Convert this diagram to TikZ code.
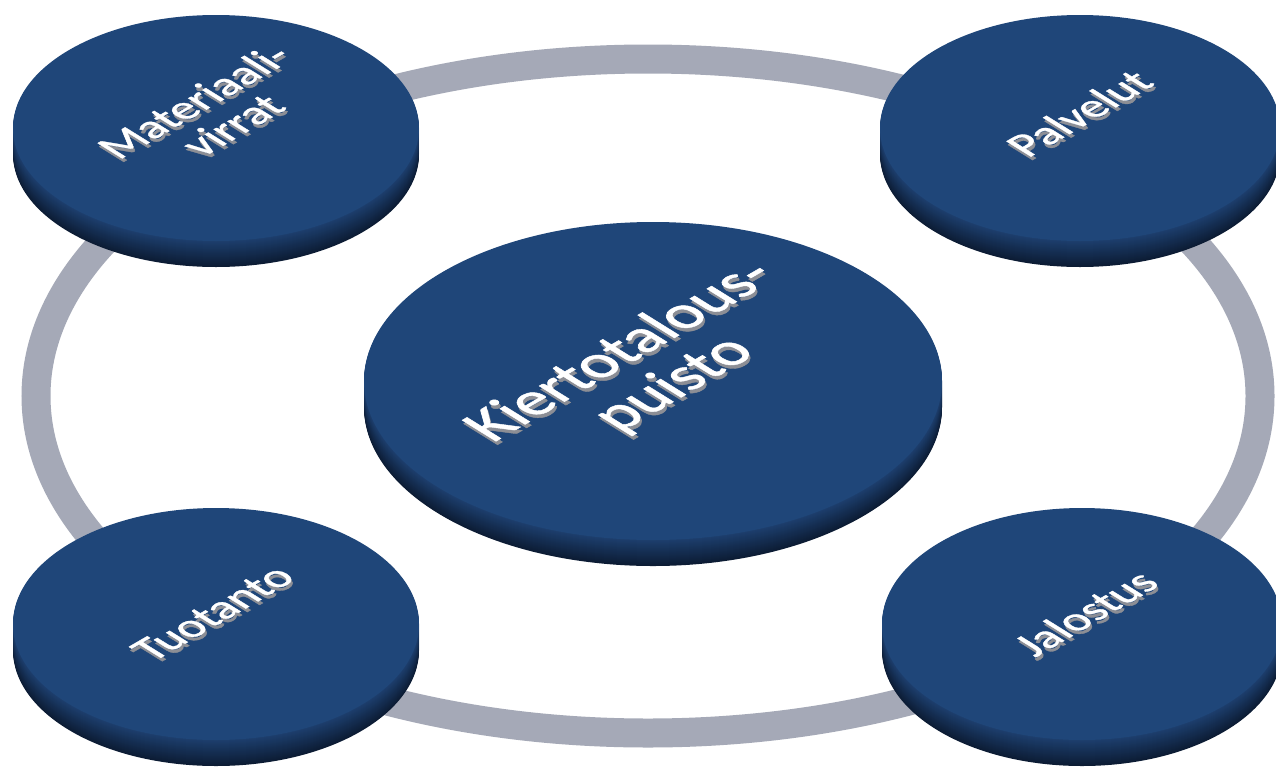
\documentclass[tikz,border=0pt]{standalone}
\usepackage{fontspec}
\setmainfont{Carlito}
\newfontfamily\labelfont{Carlito}[FakeBold=0.9]

\definecolor{ringgray}{HTML}{A5A9B7}
\definecolor{facetop}{HTML}{1F4679}
\definecolor{sidetop}{HTML}{1D3F6E}
\definecolor{sidebot}{HTML}{0C1C34}
\definecolor{embossgray}{HTML}{8C8E95}

\tikzset{
  ring/.style={draw=ringgray, line width=29pt},
  face/.style={fill=facetop},
  labelface/.style={text=white, inner sep=0pt, align=center},
  labelshade/.style={text=embossgray, inner sep=0pt, align=center},
}

% A flat disc seen from above: a stack of ellipses makes the dark rim,
% the top face sits on it. Arguments: name, centre x, centre y, x radius, y radius
\newcommand\puck[5]{%
  \foreach \k in {26,25,...,1}{%
    \pgfmathtruncatemacro\mixval{100*\k/26}%
    \fill[sidebot!\mixval!sidetop] (#2,#3+\k) ellipse[x radius=#4, y radius=#5];
  }
  \fill[face] (#2,#3) ellipse[x radius=#4, y radius=#5];
  \coordinate (#1) at (#2,#3);
}

% Label lying on a disc: rotated in the disc plane, then flattened,
% with a grey relief edge underneath.
% Arguments: name, x, y, font size, text
\newcommand\pucklabel[5]{%
  \begin{scope}[shift={(#2+1.5,#3+3.5)}, yscale=0.6, rotate=44]
    \node[labelshade, font=\labelfont\fontsize{#4}{#4}\selectfont, transform shape] (#1-shade) at (0,0) {#5};
  \end{scope}
  \begin{scope}[shift={(#2,#3)}, yscale=0.6, rotate=44]
    \node[labelface, font=\labelfont\fontsize{#4}{#4}\selectfont, transform shape] (#1) at (0,0) {#5};
  \end{scope}
}

\begin{document}
\begin{tikzpicture}[x=1pt, y=-1pt]
  \useasboundingbox (0,0) rectangle (1276,766);
  \fill[white] (0,0) rectangle (1276,766);

  % grey loop joining the outer discs
  \draw[ring] (648,396) ellipse[x radius=612, y radius=337];

  % discs
  \puck{mat}{216}{128}{203}{113}
  \puck{pal}{1080}{128}{200}{113}
  \puck{kier}{653}{381}{289}{159}
  \puck{tuo}{216}{624}{203}{116}
  \puck{jal}{1082}{624}{200}{116}

  % labels
  \pucklabel{matL}{213}{113}{55}{Materiaali-\\virrat}
  \pucklabel{palL}{1079}{113}{55}{Palvelut}
  \pucklabel{kierL}{648}{368}{76}{Kiertotalous-\\puisto}
  \pucklabel{tuoL}{213}{613}{55}{Tuotanto}
  \pucklabel{jalL}{1085}{613}{55}{Jalostus}
\end{tikzpicture}
\end{document}
